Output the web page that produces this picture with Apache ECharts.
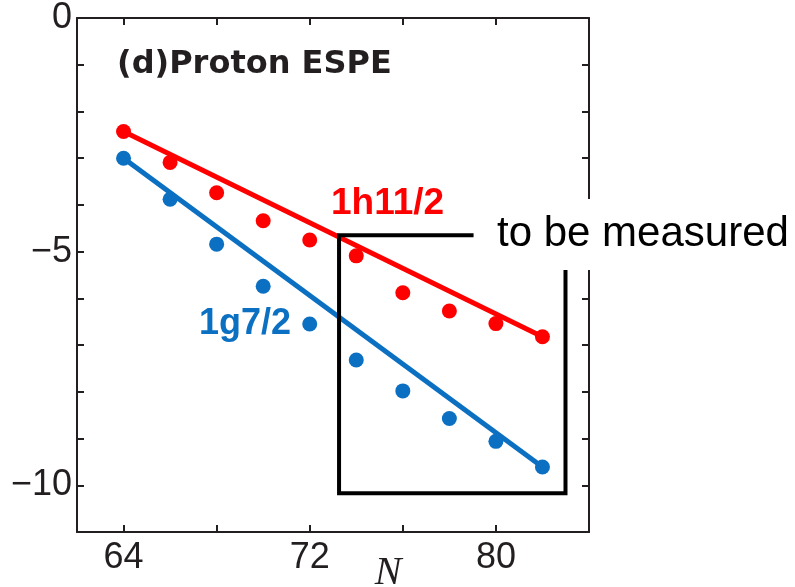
<!DOCTYPE html>
<html>
<head>
<meta charset="utf-8">
<script src="https://cdn.jsdelivr.net/npm/echarts@6/dist/echarts.min.js"></script>
<style>html,body{margin:0;padding:0;background:#fff}#c{width:795px;height:587px}</style>
</head>
<body>
<div id="c"></div>
<script>
// Neutron number N (x values)
var neutronN = [64, 66, 68, 70, 72, 74, 76, 78, 80, 82];
// Proton ESPE (MeV) for 1h11/2 (red) and 1g7/2 (blue)
var espeH11 = [-2.43, -3.09, -3.74, -4.34, -4.75, -5.09, -5.88, -6.27, -6.54, -6.82];
var espeG7  = [-3.00, -3.88, -4.84, -5.74, -6.55, -7.32, -7.98, -8.57, -9.06, -9.61];
// straight trend lines (endpoints)
var trendH11 = [[64, -2.43], [82, -6.82]];
var trendG7  = [[64, -3.00], [82, -9.61]];
// tick values
var xTicks = [64, 68, 72, 76, 80];
var xLabelTicks = [64, 72, 80];
var yLabelTicks = [0, -5, -10];

var ink = '#231f20';
var red = '#ff0000';
var blue = '#0b70c1';

function pairs(xs, ys) { return xs.map(function (x, i) { return [x, ys[i]]; }); }

var chart = echarts.init(document.getElementById('c'), null, { renderer: 'canvas' });
var axisLineStyle = { onZero: false, lineStyle: { color: ink, width: 2 } };
var tickStyle = { color: ink, width: 2 };
chart.setOption({
  animation: false,
  backgroundColor: '#fff',
  grid: { left: 77, top: 18, right: 206, bottom: 55, containLabel: false },
  xAxis: [{
    type: 'value', position: 'bottom', min: 62, max: 84, interval: 2,
    axisLine: axisLineStyle,
    axisTick: { inside: true, length: 7, lineStyle: tickStyle, customValues: xTicks },
    axisLabel: { customValues: xLabelTicks, margin: 8, fontFamily: 'Liberation Sans', fontSize: 36, color: ink },
    splitLine: { show: false }
  }, {
    type: 'value', position: 'top', min: 62, max: 84, interval: 2,
    axisLine: axisLineStyle,
    axisTick: { inside: true, length: 7, lineStyle: tickStyle, customValues: xTicks },
    axisLabel: { show: false },
    splitLine: { show: false }
  }],
  yAxis: [{
    type: 'value', position: 'left', min: -11, max: 0, interval: 1,
    axisLine: { show: true, onZero: false, lineStyle: { color: ink, width: 2 } },
    axisTick: { show: true, inside: true, length: 7, lineStyle: tickStyle },
    axisLabel: {
      customValues: yLabelTicks, margin: 5, fontFamily: 'Liberation Sans', fontSize: 36, color: ink,
      formatter: function (v) { return v < 0 ? '\u2212' + Math.abs(v) : String(v); }
    },
    splitLine: { show: false }
  }, {
    type: 'value', position: 'right', min: -11, max: 0, interval: 1,
    axisLine: { show: true, onZero: false, lineStyle: { color: ink, width: 2 } },
    axisTick: { show: true, inside: true, length: 7, lineStyle: tickStyle },
    axisLabel: { show: false },
    splitLine: { show: false }
  }],
  series: [
    { type: 'line', data: trendH11, symbol: 'none', lineStyle: { color: red, width: 5 }, z: 2 },
    { type: 'line', data: trendG7, symbol: 'none', lineStyle: { color: blue, width: 5 }, z: 2 },
    { type: 'scatter', data: pairs(neutronN, espeH11), symbolSize: 15, itemStyle: { color: red, opacity: 1 }, z: 3 },
    { type: 'scatter', data: pairs(neutronN, espeG7), symbolSize: 15, itemStyle: { color: blue, opacity: 1 }, z: 3 },
    {
      type: 'line', symbol: 'none', z: 4, clip: false,
      lineStyle: { color: '#000', width: 4, join: 'miter' },
      data: [[79.04, -4.65], [73.26, -4.65], [73.26, -10.17], [82.99, -10.17], [82.99, -5.3]]
    }
  ],
  graphic: [
    { type: 'text', x: 117, y: 65, z: 10,
      style: { text: '(d)Proton ESPE', font: 'bold 32px "DejaVu Sans"', fill: ink, verticalAlign: 'middle' } },
    { type: 'text', x: 331, y: 203.5, z: 10,
      style: { text: '1h11/2', font: 'bold 37px "Liberation Sans"', fill: red, verticalAlign: 'middle' } },
    { type: 'text', x: 199, y: 324.5, z: 10,
      style: { text: '1g7/2', font: 'bold 36px "Liberation Sans"', fill: blue, verticalAlign: 'middle' } },
    { type: 'text', x: 483, y: 199, z: 10,
      style: { text: 'to be measured', font: '42px "Liberation Sans"', lineHeight: 46, fill: '#000',
        backgroundColor: '#fff', padding: [12, 10, 13, 14], verticalAlign: 'top' } },
    { type: 'text', x: 388, y: 573, z: 10,
      style: { text: 'N', font: 'italic 40px "Liberation Serif"', fill: ink, align: 'center', verticalAlign: 'middle' } }
  ]
});
</script>
</body>
</html>
